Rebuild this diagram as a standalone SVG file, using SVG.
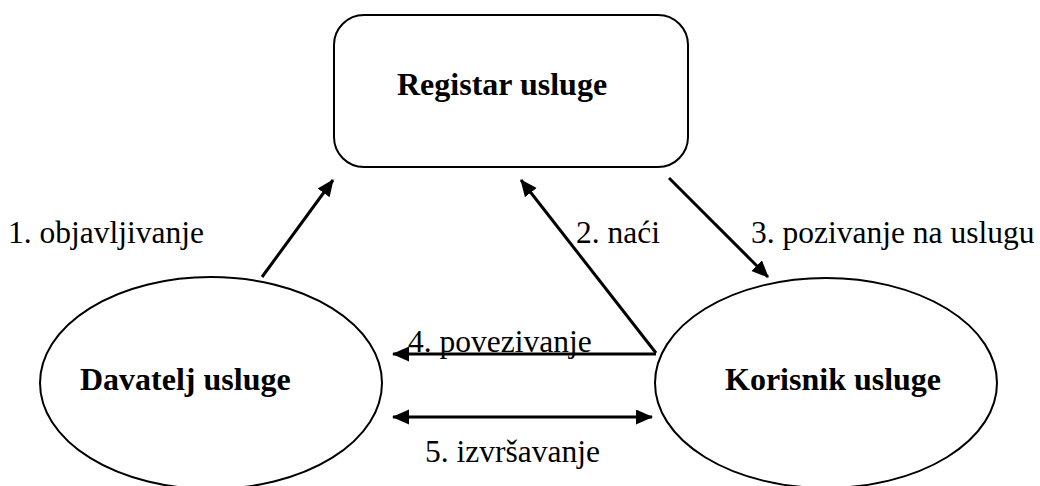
<svg xmlns="http://www.w3.org/2000/svg" width="1040" height="486" viewBox="0 0 1040 486">
  <style>
    .shape { fill: #fff; stroke: #000; stroke-width: 2; }
    .title { font-family: "Liberation Serif", "Times New Roman", serif; font-weight: bold; font-size: 32px; fill: #000; }
    .label { font-family: "Liberation Serif", "Times New Roman", serif; font-size: 31.5px; fill: #000; }
    .edge { stroke: #000; stroke-width: 3; fill: none; }
  </style>
  <defs>
    <marker id="arrow" markerUnits="userSpaceOnUse" markerWidth="18" markerHeight="16" refX="16" refY="7.5" orient="auto-start-reverse">
      <path d="M0,0 L17,7.5 L0,15 Z" fill="#000"/>
    </marker>
  </defs>

  <rect width="1040" height="486" fill="#fff"/>

  <g id="registar">
    <rect class="shape" x="334" y="15" width="354" height="152" rx="30" ry="30"/>
    <text class="title" x="397" y="95">Registar usluge</text>
  </g>

  <g id="davatelj">
    <ellipse class="shape" cx="211" cy="383" rx="171" ry="106"/>
    <text class="title" x="80" y="390">Davatelj usluge</text>
  </g>

  <g id="korisnik">
    <ellipse class="shape" cx="826" cy="383" rx="171" ry="105"/>
    <text class="title" x="725" y="390">Korisnik usluge</text>
  </g>

  <g id="connectors">
    <line class="edge" x1="262" y1="277" x2="333" y2="180" marker-end="url(#arrow)"/>
    <line class="edge" x1="656" y1="353" x2="521" y2="180" marker-end="url(#arrow)"/>
    <line class="edge" x1="669" y1="178" x2="768" y2="277" marker-end="url(#arrow)"/>
    <line class="edge" x1="656" y1="354" x2="393" y2="354" marker-end="url(#arrow)"/>
    <line class="edge" x1="393" y1="417" x2="652" y2="417" marker-start="url(#arrow)" marker-end="url(#arrow)"/>
  </g>

  <g id="labels">
    <text class="label" x="8" y="243">1. objavljivanje</text>
    <text class="label" x="576" y="243">2. naći</text>
    <text class="label" x="751" y="243">3. pozivanje na uslugu</text>
    <text class="label" x="408" y="352">4. povezivanje</text>
    <text class="label" x="425" y="462">5. izvršavanje</text>
  </g>
</svg>
